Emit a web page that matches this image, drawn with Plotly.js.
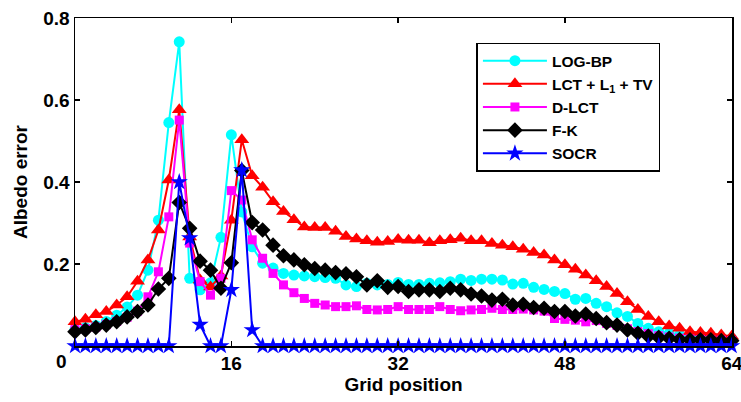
<!DOCTYPE html>
<html>
<head>
<meta charset="utf-8">
<script src="https://cdn.plot.ly/plotly-3.0.1.min.js"></script>
<style>
  html, body { margin: 0; padding: 0; background: #fff; }
  #chart { width: 741px; height: 402px; }
</style>
</head>
<body>
<div id="chart"></div>
<script>
// Grid positions 1..64
const gridPos = [
  1, 2, 3, 4, 5, 6, 7, 8, 9, 10, 11, 12, 13, 14, 15, 16,
  17, 18, 19, 20, 21, 22, 23, 24, 25, 26, 27, 28, 29, 30, 31, 32,
  33, 34, 35, 36, 37, 38, 39, 40, 41, 42, 43, 44, 45, 46, 47, 48,
  49, 50, 51, 52, 53, 54, 55, 56, 57, 58, 59, 60, 61, 62, 63, 64
];

const logBP = [
  0.040, 0.045, 0.050, 0.060, 0.075, 0.095, 0.124, 0.185, 0.307, 0.545, 0.742, 0.165, 0.137, 0.154, 0.265, 0.515,
  0.327, 0.242, 0.202, 0.190, 0.177, 0.173, 0.171, 0.169, 0.167, 0.165, 0.149, 0.145, 0.153, 0.149, 0.150, 0.155,
  0.150, 0.150, 0.153, 0.154, 0.157, 0.163, 0.160, 0.163, 0.163, 0.161, 0.151, 0.153, 0.143, 0.138, 0.133, 0.128,
  0.114, 0.116, 0.104, 0.096, 0.081, 0.072, 0.055, 0.043, 0.035, 0.031, 0.027, 0.024, 0.022, 0.020, 0.019, 0.018
];

const lctL1TV = [
  0.059, 0.065, 0.076, 0.084, 0.100, 0.120, 0.158, 0.210, 0.283, 0.405, 0.576, 0.266, 0.161, 0.144, 0.171, 0.307,
  0.503, 0.415, 0.387, 0.352, 0.328, 0.308, 0.290, 0.289, 0.289, 0.280, 0.267, 0.261, 0.257, 0.253, 0.255, 0.260,
  0.258, 0.258, 0.252, 0.257, 0.259, 0.263, 0.257, 0.257, 0.250, 0.246, 0.242, 0.236, 0.228, 0.222, 0.210, 0.198,
  0.187, 0.173, 0.159, 0.145, 0.128, 0.108, 0.089, 0.072, 0.059, 0.049, 0.043, 0.035, 0.033, 0.031, 0.027, 0.024
];

const dLCT = [
  0.040, 0.042, 0.046, 0.052, 0.060, 0.070, 0.085, 0.120, 0.181, 0.315, 0.551, 0.251, 0.157, 0.124, 0.165, 0.379,
  0.356, 0.259, 0.214, 0.177, 0.149, 0.130, 0.116, 0.104, 0.100, 0.096, 0.096, 0.098, 0.089, 0.088, 0.089, 0.096,
  0.089, 0.089, 0.089, 0.096, 0.089, 0.086, 0.088, 0.089, 0.092, 0.089, 0.089, 0.090, 0.088, 0.085, 0.067, 0.065,
  0.063, 0.059, 0.062, 0.055, 0.050, 0.042, 0.035, 0.030, 0.025, 0.022, 0.019, 0.017, 0.016, 0.015, 0.014, 0.013
];

const fk = [
  0.035, 0.039, 0.045, 0.051, 0.059, 0.071, 0.084, 0.100, 0.139, 0.165, 0.350, 0.287, 0.207, 0.185, 0.141, 0.203,
  0.428, 0.301, 0.283, 0.246, 0.220, 0.210, 0.198, 0.189, 0.185, 0.179, 0.176, 0.169, 0.149, 0.159, 0.143, 0.145,
  0.133, 0.137, 0.137, 0.133, 0.141, 0.137, 0.127, 0.122, 0.112, 0.114, 0.100, 0.102, 0.094, 0.092, 0.084, 0.084,
  0.073, 0.078, 0.067, 0.057, 0.051, 0.039, 0.031, 0.024, 0.021, 0.019, 0.016, 0.015, 0.015, 0.015, 0.013, 0.013
];

const socr = [
  0, 0, 0, 0, 0, 0, 0, 0, 0, 0, 0.400, 0.263, 0.052, 0, 0, 0.137,
  0.429, 0.039, 0, 0, 0, 0, 0, 0, 0, 0, 0, 0, 0, 0, 0, 0,
  0, 0, 0, 0, 0, 0, 0, 0, 0, 0, 0, 0, 0, 0, 0, 0,
  0, 0, 0, 0, 0, 0, 0, 0, 0, 0, 0, 0, 0, 0, 0, 0
];

const seriesNames = ['LOG-BP', 'LCT + L<sub>1</sub> + TV', 'D-LCT', 'F-K', 'SOCR'];
const xTicks = [16, 32, 48, 64];
const yTicks = [0.2, 0.4, 0.6, 0.8];

const FONT = 'Liberation Sans, Arial, Helvetica, sans-serif';

function series(name, y, color, symbol, size) {
  return {
    type: 'scatter',
    mode: 'lines+markers',
    name: name,
    x: gridPos,
    y: y,
    cliponaxis: false,
    line: { color: color, width: 2 },
    marker: { color: color, symbol: symbol, size: size, line: { width: 0 } }
  };
}

const traces = [
  series(seriesNames[0], logBP, '#00ffff', 'circle', 11),
  series(seriesNames[1], lctL1TV, '#ff0000', 'triangle-up', 13),
  series(seriesNames[2], dLCT, '#ff00ff', 'square', 9),
  series(seriesNames[3], fk, '#000000', 'diamond', 12),
  series(seriesNames[4], socr, '#0000ff', 'star', 13)
];

const axisCommon = {
  showline: true,
  linecolor: '#000',
  linewidth: 1.5,
  mirror: 'ticks',
  ticks: 'inside',
  ticklen: 5,
  tickwidth: 1.3,
  tickcolor: '#000',
  showgrid: false,
  zeroline: false,
  ticklabeloverflow: 'allow',
  tickfont: { family: FONT, size: 19, color: '#000', weight: 'bold' }
};

const layout = {
  width: 741,
  height: 402,
  margin: { l: 75, r: 9, t: 18, b: 56 },
  paper_bgcolor: '#fff',
  plot_bgcolor: '#fff',
  font: { family: FONT, color: '#000' },
  xaxis: Object.assign({}, axisCommon, {
    range: [1, 64.03],
    tickmode: 'array',
    tickvals: xTicks,
    ticktext: xTicks.map(String),
    title: { text: '<b>Grid position</b>', font: { family: FONT, size: 19, color: '#000' }, standoff: 4 }
  }),
  yaxis: Object.assign({}, axisCommon, {
    range: [0, 0.8],
    tickmode: 'array',
    tickvals: yTicks,
    ticktext: yTicks.map(v => v.toFixed(1)),
    title: { text: '<b>Albedo error</b>', font: { family: FONT, size: 19, color: '#000' }, standoff: 10 }
  }),
  annotations: [{
    xref: 'paper', yref: 'paper', x: 0, y: 0,
    xanchor: 'center', yanchor: 'middle',
    xshift: -14, yshift: -15,
    text: '<b>0</b>', showarrow: false,
    font: { family: FONT, size: 19, color: '#000' }
  }],
  showlegend: true,
  legend: {
    x: 0.611, y: 0.925, xanchor: 'left', yanchor: 'top',
    bgcolor: '#fff',
    bordercolor: '#000',
    borderwidth: 1.5,
    itemwidth: 64,
    font: { family: FONT, size: 15.5, color: '#000', weight: 'bold' }
  }
};

Plotly.newPlot('chart', traces, layout, { displayModeBar: false, staticPlot: true });
</script>
</body>
</html>
